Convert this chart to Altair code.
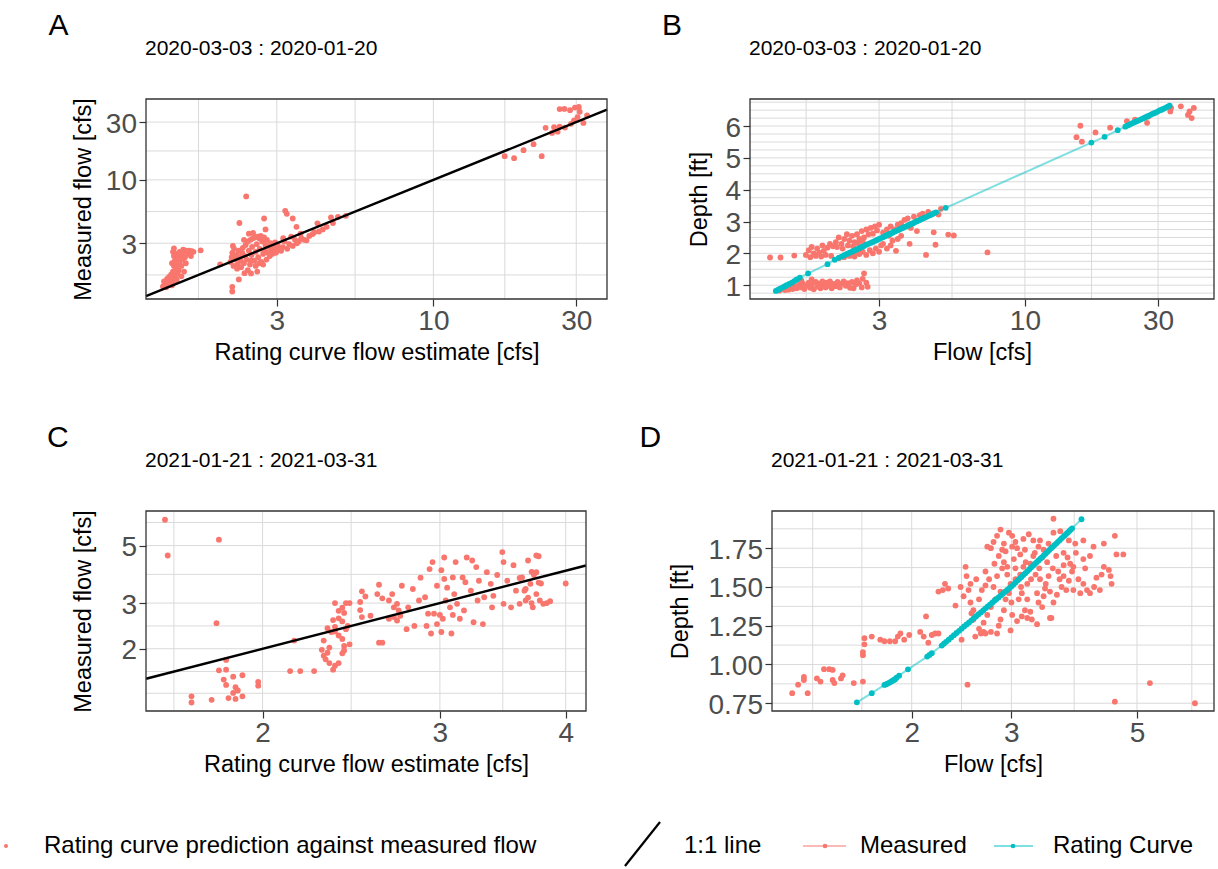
import altair as alt
import pandas as pd

RED = "#F8766D"
TEAL = "#00BFC4"
GRID = "#DADADA"
INK = "#333333"
FONT = "Liberation Sans"

# ---------------- Panel A: rating estimate vs measured flow (2020) ----------------
a_points = [
    (1.25, 1.32), (1.27, 1.38), (1.26, 1.45), (1.28, 1.30), (1.30, 1.35), (1.30, 1.42), (1.29, 1.52), (1.32, 1.40),
    (1.33, 1.48), (1.31, 1.58), (1.34, 1.35), (1.35, 1.55), (1.36, 1.45), (1.33, 1.65), (1.35, 1.75), (1.37, 1.62),
    (1.38, 1.85), (1.36, 1.95), (1.34, 2.05), (1.37, 2.15), (1.36, 2.35), (1.35, 2.55), (1.36, 2.72), (1.38, 2.45),
    (1.39, 2.25), (1.40, 2.00), (1.41, 1.80), (1.40, 1.68), (1.42, 2.10), (1.43, 2.35), (1.42, 2.55), (1.44, 1.95),
    (1.45, 2.20), (1.46, 2.50), (1.46, 2.65), (1.48, 2.30), (1.49, 2.05), (1.50, 2.60), (1.52, 2.45), (1.53, 2.60),
    (1.55, 2.35), (1.56, 2.58), (1.58, 2.55), (1.47, 1.75), (1.44, 1.60), (1.39, 1.50), (1.67, 2.62),
    (1.94, 2.01), (2.10, 2.10), (2.12, 2.30), (2.15, 1.95), (2.13, 2.50), (2.16, 2.70), (2.14, 2.85), (2.18, 2.20),
    (2.20, 2.40), (2.22, 2.00), (2.21, 1.85), (2.24, 2.60), (2.25, 2.30), (2.27, 2.15), (2.28, 1.90), (2.30, 2.50),
    (2.31, 2.75), (2.33, 2.05), (2.35, 2.35), (2.36, 2.90), (2.38, 2.20), (2.40, 3.10), (2.42, 2.60), (2.44, 2.00),
    (2.45, 3.20), (2.47, 2.40), (2.48, 2.80), (2.50, 3.30), (2.52, 2.15), (2.53, 3.35), (2.55, 2.55), (2.57, 2.95),
    (2.58, 3.40), (2.60, 2.30), (2.62, 3.30), (2.63, 2.70), (2.65, 3.45), (2.66, 2.10), (2.68, 3.10), (2.70, 2.45),
    (2.72, 3.35), (2.73, 2.60), (2.75, 2.90), (2.77, 2.20), (2.78, 3.20), (2.80, 2.50), (2.82, 2.80), (2.84, 2.35),
    (2.86, 3.00), (2.88, 2.65), (2.90, 2.45), (2.92, 2.85), (2.94, 2.60), (2.96, 3.05), (2.98, 2.50), (3.00, 2.75),
    (3.02, 2.90), (3.05, 2.65), (2.55, 1.95), (2.62, 2.05), (2.70, 2.00), (2.46, 2.15), (2.40, 1.80), (2.34, 1.70),
    (2.24, 1.51), (2.13, 1.31), (2.13, 1.20), (2.46, 1.69), (2.58, 1.75), (2.37, 7.30), (2.25, 4.41), (2.72, 4.80),
    (2.75, 3.90), (2.42, 3.60), (2.50, 3.65), (2.33, 3.20),
    (3.14, 2.79), (3.20, 5.55), (3.24, 5.25), (3.39, 4.80), (3.49, 4.10), (3.10, 2.60), (3.18, 3.10), (3.25, 2.70),
    (3.30, 2.95), (3.39, 2.85), (3.45, 3.20), (3.50, 3.00), (3.55, 3.10), (3.62, 3.30), (3.70, 3.20), (3.77, 3.17),
    (3.85, 3.45), (3.95, 3.57), (4.00, 3.70), (4.10, 4.38), (4.15, 3.75), (4.27, 3.90), (4.40, 4.10), (4.55, 4.90),
    (4.62, 4.40), (4.80, 4.95), (5.10, 5.05), (3.35, 3.40), (3.60, 3.60), (3.15, 3.30),
    (17.3, 15.7), (18.6, 15.1), (20.0, 17.6), (21.6, 19.7), (23.0, 15.7), (23.7, 26.9), (24.9, 24.4), (25.3, 27.2),
    (26.0, 25.0), (26.4, 27.5), (27.5, 27.0), (28.8, 29.0), (26.4, 38.4), (27.4, 38.5), (28.6, 37.6), (29.7, 39.5),
    (30.6, 40.0), (30.3, 33.0), (31.7, 29.5), (32.6, 34.0), (29.5, 31.0), (30.8, 36.5),
]
a_x_domain = [1.097, 38.0]
a_y_domain = [1.04, 46.5]
a_one_to_one = [1.097, 38.0]
a_x_ticks = [3, 10, 30]
a_y_ticks = [3, 10, 30]
a_x_grid = [1.643, 3, 5.477, 10, 17.32, 30]
a_y_grid = [1.643, 3, 5.477, 10, 17.32, 30]

# ---------------- Panel B: flow vs depth (2020) ----------------
b_measured = [
    (1.22, 1.87), (1.33, 1.87), (1.49, 1.93),
    (1.32, 0.83), (1.35, 0.88), (1.38, 0.85), (1.40, 0.92), (1.42, 0.86), (1.45, 0.95), (1.47, 0.88), (1.50, 0.97),
    (1.52, 0.90), (1.55, 1.02), (1.57, 0.93), (1.60, 1.05), (1.62, 0.88), (1.65, 0.98), (1.68, 1.08), (1.70, 0.92),
    (1.72, 1.02), (1.75, 0.87), (1.78, 1.10), (1.80, 0.96), (1.83, 1.05), (1.85, 0.90), (1.88, 1.12), (1.90, 1.00),
    (1.93, 0.93), (1.95, 1.08), (1.98, 0.98), (2.00, 1.12), (2.03, 0.90), (2.06, 1.04), (2.10, 0.97), (2.13, 1.10),
    (2.17, 0.93), (2.20, 1.05), (2.24, 1.12), (2.28, 0.98), (2.32, 1.06), (2.36, 0.92), (2.40, 1.10), (2.43, 0.90),
    (2.47, 1.02), (2.50, 1.15), (2.55, 1.05), (2.60, 0.93), (2.62, 1.20), (2.65, 1.37), (2.70, 1.08), (2.73, 0.95),
    (1.58, 1.15), (1.72, 1.18),
    (1.64, 1.95), (1.68, 2.10), (1.70, 1.88), (1.72, 2.20), (1.75, 2.00), (1.78, 1.92), (1.80, 2.15), (1.83, 2.02),
    (1.86, 1.90), (1.88, 2.25), (1.90, 2.08), (1.93, 1.95), (1.96, 2.18), (2.00, 2.30), (2.02, 1.92), (2.05, 2.22),
    (2.10, 2.35), (2.15, 2.50), (2.20, 2.30), (2.25, 2.45), (2.30, 2.60), (2.35, 2.40), (2.40, 2.55), (2.45, 2.35),
    (2.50, 2.60), (2.55, 2.45), (2.60, 2.70), (2.65, 2.50), (2.70, 2.75), (2.75, 2.60), (2.80, 2.80), (2.85, 2.62),
    (2.90, 2.85), (2.95, 2.72), (3.00, 2.90), (2.12, 2.20), (2.22, 2.15), (2.32, 2.25), (2.42, 2.22), (2.52, 2.32),
    (2.62, 2.38),
    (2.15, 1.85), (2.25, 1.88), (2.35, 1.92), (2.45, 1.90), (2.55, 1.98), (2.62, 2.05), (2.70, 1.95), (2.78, 2.10),
    (2.85, 2.00), (2.92, 2.15), (3.00, 2.05), (3.05, 2.25), (3.10, 2.30), (3.20, 2.15), (3.30, 2.25), (3.35, 2.40),
    (3.45, 2.08), (3.50, 2.45), (2.50, 2.05), (2.40, 2.00),
    (3.10, 2.65), (3.20, 2.75), (3.30, 2.85), (3.40, 2.75), (3.50, 2.90), (3.60, 2.95), (3.70, 3.05), (3.80, 3.10),
    (3.90, 2.80), (4.00, 3.15), (4.10, 2.70), (4.20, 3.20), (4.30, 3.25), (4.50, 3.30), (3.86, 2.30), (4.42, 1.95),
    (4.71, 2.66), (4.78, 2.27), (4.90, 3.22), (5.00, 3.40), (5.31, 2.59), (5.56, 2.56), (7.34, 2.03), (3.60, 2.55),
    (3.25, 2.55),
    (15.3, 5.65), (15.8, 6.01), (16.0, 5.51), (17.9, 5.80), (20.2, 5.95), (23.2, 6.15), (24.8, 6.20), (27.4, 6.10),
    (27.7, 6.30), (33.2, 6.46), (33.4, 6.57), (36.2, 6.62), (38.4, 6.35), (38.9, 6.46), (39.6, 6.25), (40.3, 6.57),
]
b_rating = [
    (1.28, 0.82), (1.30, 0.85), (1.32, 0.88), (1.34, 0.91), (1.36, 0.94), (1.38, 0.97), (1.40, 1.00), (1.43, 1.04),
    (1.46, 1.08), (1.49, 1.13), (1.52, 1.18), (1.56, 1.24), (1.67, 1.37), (1.96, 1.66),
    (2.08, 1.80), (2.15, 1.86), (2.20, 1.90), (2.25, 1.94), (2.30, 1.98), (2.35, 2.02), (2.40, 2.05), (2.45, 2.09),
    (2.50, 2.13), (2.55, 2.16), (2.60, 2.20), (2.65, 2.23), (2.70, 2.27), (2.75, 2.30), (2.80, 2.33), (2.85, 2.36),
    (2.90, 2.39), (2.95, 2.42), (3.00, 2.45), (3.05, 2.48), (3.10, 2.51), (3.15, 2.54), (3.20, 2.57), (3.25, 2.60),
    (3.30, 2.62), (3.35, 2.65), (3.40, 2.68), (3.45, 2.70), (3.50, 2.73), (3.55, 2.75), (3.60, 2.78), (3.65, 2.80),
    (3.70, 2.83), (3.75, 2.85), (3.80, 2.87), (3.85, 2.90), (3.90, 2.92), (3.95, 2.94), (4.00, 2.96), (4.05, 2.99),
    (4.10, 3.01), (4.15, 3.03), (4.20, 3.05), (4.27, 3.08), (4.35, 3.11), (4.42, 3.14), (4.50, 3.17), (4.57, 3.20),
    (4.65, 3.23), (4.72, 3.26), (4.80, 3.29), (5.20, 3.43),
    (17.3, 5.48), (19.3, 5.66), (21.5, 5.87), (22.9, 5.98), (23.35, 6.02), (23.8, 6.05), (24.25, 6.09), (24.7, 6.12),
    (25.15, 6.15), (25.6, 6.18), (26.05, 6.21), (26.5, 6.24), (26.95, 6.27), (27.4, 6.30), (27.85, 6.33),
    (28.3, 6.36), (28.75, 6.39), (29.2, 6.41), (29.65, 6.44), (30.1, 6.47), (30.55, 6.50), (31.0, 6.52),
    (31.5, 6.55), (32.0, 6.58), (32.5, 6.61), (33.0, 6.64),
]
b_x_domain = [1.034, 47.6]
b_y_domain = [0.566, 6.85]
b_x_ticks = [3, 10, 30]
b_y_ticks = [1, 2, 3, 4, 5, 6]
b_x_grid = [1.643, 3, 5.477, 10, 17.32, 30]
b_y_grid = [0.75, 1, 1.25, 1.5, 1.75, 2, 2.25, 2.5, 2.75, 3, 3.25, 3.5, 3.75, 4, 4.25, 4.5, 4.75,
            5, 5.25, 5.5, 5.75, 6, 6.25, 6.5, 6.75]

# ---------------- Panel C: rating estimate vs measured flow (2021) ----------------
c_points = [
    (1.60, 6.29), (1.61, 4.58), (1.81, 5.27), (1.80, 2.51), (1.70, 1.31), (1.70, 1.24), (1.78, 1.27), (1.84, 1.81),
    (1.81, 1.65), (1.84, 1.66), (1.83, 1.52), (1.87, 1.56), (1.84, 1.45), (1.88, 1.42), (1.91, 1.58), (1.87, 1.35),
    (1.89, 1.38), (1.91, 1.31), (1.85, 1.29), (1.88, 1.28), (1.98, 1.49), (1.98, 1.44), (2.15, 2.15), (2.13, 1.64),
    (2.18, 1.64), (2.25, 1.64),
    (2.30, 2.15), (2.29, 1.98), (2.30, 1.88), (2.31, 1.82), (2.33, 1.76), (2.35, 1.66), (2.36, 1.72), (2.38, 1.76),
    (2.32, 1.93), (2.33, 2.02), (2.38, 2.25), (2.40, 2.18), (2.41, 2.05), (2.41, 1.97), (2.40, 1.92), (2.36, 2.43),
    (2.38, 2.62), (2.40, 2.55), (2.41, 2.75), (2.40, 2.88), (2.42, 3.00), (2.36, 3.00), (2.44, 3.00), (2.38, 2.80),
    (2.44, 2.08), (2.42, 2.38), (2.43, 2.45), (2.36, 2.33), (2.34, 2.32), (2.35, 2.58), (2.32, 2.40),
    (2.50, 3.03), (2.51, 3.33), (2.53, 3.18), (2.50, 2.82), (2.51, 2.65), (2.56, 2.68), (2.61, 3.53), (2.60, 3.25),
    (2.63, 3.13), (2.63, 2.11), (2.61, 2.11), (2.67, 3.07), (2.69, 3.25), (2.70, 2.89), (2.72, 2.98), (2.73, 2.81),
    (2.75, 3.50), (2.67, 2.61), (2.70, 2.65), (2.72, 2.57), (2.74, 2.68), (2.78, 2.38), (2.79, 2.89), (2.82, 3.40),
    (2.83, 2.45), (2.86, 3.07), (2.87, 3.76), (2.90, 3.16), (2.91, 2.45), (2.92, 2.73), (2.94, 2.29), (2.96, 2.73),
    (2.93, 4.06), (2.95, 4.32), (2.98, 3.50), (3.01, 4.02), (3.00, 2.70), (3.01, 2.32), (3.02, 2.61), (2.98, 2.49),
    (3.03, 4.50), (3.03, 3.72), (3.04, 3.07), (3.05, 3.44), (3.07, 2.89), (3.08, 2.29), (3.09, 3.77), (3.09, 2.70),
    (3.10, 3.25), (3.11, 4.32), (3.12, 2.98), (3.14, 2.61), (3.16, 3.77), (3.17, 2.81), (3.18, 3.61), (3.19, 4.50),
    (3.22, 3.35), (3.23, 4.38), (3.24, 2.53), (3.26, 4.13), (3.27, 3.07), (3.28, 3.66), (3.31, 2.49), (3.32, 3.16),
    (3.34, 3.95), (3.37, 3.56), (3.38, 2.89), (3.39, 3.20), (3.42, 3.85), (3.46, 4.72), (3.47, 4.32), (3.47, 2.98),
    (3.50, 3.66), (3.53, 2.89), (3.55, 4.20), (3.57, 3.35), (3.60, 2.98), (3.62, 3.77), (3.64, 3.35), (3.65, 3.07),
    (3.67, 4.38), (3.69, 3.56), (3.71, 2.89), (3.74, 3.95), (3.76, 4.55), (3.77, 3.07),
    (3.78, 3.57), (3.83, 3.00), (3.74, 3.25), (3.70, 3.96), (3.72, 3.85), (3.67, 3.15), (3.70, 3.00), (3.80, 2.98),
    (3.65, 3.40), (3.60, 3.75), (3.76, 3.60), (3.74, 4.58), (4.00, 3.57), (3.86, 3.05),
]
c_x_domain = [1.532, 4.19]
c_y_domain = [1.15, 6.8]
c_one_to_one = [1.532, 4.19]
c_x_ticks = [2, 3, 4]
c_y_ticks = [2, 3, 5]
c_x_grid = [1.633, 2, 2.449, 3, 3.464, 4]
c_y_grid = [1.346, 1.633, 2, 2.449, 3, 3.873, 5, 6.14]

# ---------------- Panel D: flow vs depth (2021) ----------------
d_measured = [
    (1.23, 0.815), (1.26, 0.87), (1.29, 0.92), (1.29, 0.90), (1.31, 0.815), (1.36, 0.91), (1.38, 0.89), (1.40, 0.97),
    (1.43, 0.97), (1.45, 0.965), (1.45, 0.90), (1.46, 0.88), (1.50, 0.91), (1.51, 0.93), (1.58, 0.88), (1.64, 0.89),
    (1.64, 1.06), (1.64, 1.08), (1.65, 1.13), (1.65, 1.17), (1.70, 1.18), (1.76, 1.16), (1.79, 1.15), (1.83, 1.15),
    (1.87, 1.15), (1.89, 1.18), (1.91, 1.20), (1.94, 1.16), (1.98, 1.19), (2.07, 1.21), (2.12, 1.31), (2.10, 1.18),
    (2.14, 1.14), (2.17, 1.19), (2.20, 1.20), (2.23, 1.20), (2.51, 0.87),
    (2.23, 1.47), (2.27, 1.48), (2.32, 1.49), (2.29, 1.52), (2.39, 1.38), (2.45, 1.16), (2.47, 1.44), (2.49, 1.63),
    (2.50, 1.57), (2.54, 1.52), (2.55, 1.33), (2.57, 1.29), (2.59, 1.18), (2.65, 1.20), (2.68, 1.21), (2.70, 1.20),
    (2.76, 1.21), (2.83, 1.20), (2.85, 1.25), (2.63, 1.42), (2.66, 1.48), (2.70, 1.51), (2.74, 1.55), (2.79, 1.50),
    (2.83, 1.57), (2.89, 1.62), (2.76, 1.75), (2.79, 1.79), (2.87, 1.87), (2.91, 1.78), (2.93, 1.73), (2.97, 1.85),
    (3.01, 1.83), (3.05, 1.79), (3.07, 1.75), (3.15, 1.81), (3.22, 1.84), (3.28, 1.80), (3.35, 1.76), (3.42, 1.74),
    (3.49, 1.78), (3.56, 1.85), (3.66, 1.86), (3.71, 1.72), (3.81, 1.65), (3.86, 1.63), (3.94, 1.55), (4.02, 1.68),
    (4.13, 1.70), (4.30, 1.48), (4.37, 1.63), (4.49, 1.57), (4.57, 1.83), (4.73, 1.71), (4.37, 1.78), (4.46, 1.61),
    (4.51, 1.52), (4.08, 1.48), (4.13, 1.46), (3.97, 1.46), (3.86, 1.48), (3.79, 1.54), (3.68, 1.50), (3.61, 1.45),
    (3.51, 1.47), (3.44, 1.49), (3.37, 1.55), (3.31, 1.58), (3.20, 1.42), (3.17, 1.35), (3.13, 1.31), (3.07, 1.28),
    (2.99, 1.22), (2.91, 1.35), (2.87, 1.29), (3.01, 1.32), (3.09, 1.42), (3.24, 1.34), (3.26, 1.29), (3.33, 1.26),
    (3.40, 1.37), (3.51, 1.30), (3.56, 1.40), (3.42, 1.44), (3.49, 1.57), (3.63, 1.60), (3.71, 1.64), (3.77, 1.69),
    (3.47, 1.66), (3.40, 1.69), (3.28, 1.70), (3.24, 1.65), (3.15, 1.63), (3.11, 1.58), (3.05, 1.55), (2.99, 1.52),
    (2.97, 1.46), (2.93, 1.42), (2.87, 1.47), (2.81, 1.42), (2.76, 1.37), (2.72, 1.32), (2.68, 1.27), (2.63, 1.23),
    (2.57, 1.35), (2.54, 1.40), (2.52, 1.48), (2.44, 1.50), (2.91, 1.66), (2.85, 1.70), (2.95, 1.63), (3.03, 1.68),
    (3.11, 1.71), (3.17, 1.74), (3.13, 1.46), (3.20, 1.52), (3.33, 1.46), (3.71, 1.57), (3.84, 1.60), (4.02, 1.52),
    (4.24, 1.56), (4.33, 1.58), (4.60, 1.71), (4.19, 1.76), (4.02, 1.80), (3.89, 1.78), (3.79, 1.80), (3.37, 1.80),
    (2.72, 1.76), (2.83, 1.83), (2.89, 1.74), (3.01, 1.76), (3.56, 1.94), (3.53, 1.30), (3.20, 1.30),
    (2.95, 1.58), (3.05, 1.62), (3.12, 1.50), (3.18, 1.66), (3.25, 1.55), (3.30, 1.72), (3.36, 1.62), (3.45, 1.52),
    (3.55, 1.62), (3.60, 1.70), (3.65, 1.55), (3.75, 1.48), (3.90, 1.72), (4.05, 1.62), (4.20, 1.50), (2.80, 1.65),
    (2.70, 1.60), (2.60, 1.55), (3.00, 1.40), (3.35, 1.40),
    (4.57, 0.76), (5.27, 0.88), (6.33, 0.75),
]
d_rating = [
    (1.60, 0.756), (1.70, 0.815), (1.79, 0.868), (1.80, 0.872), (1.81, 0.875), (1.82, 0.880), (1.83, 0.885),
    (1.84, 0.890), (1.85, 0.895), (1.86, 0.900), (1.87, 0.905), (1.88, 0.915), (1.90, 0.928), (1.97, 0.969),
    (2.13, 1.051), (2.15, 1.062), (2.17, 1.073), (2.26, 1.122), (2.28, 1.134), (2.30, 1.146), (2.325, 1.160),
    (2.35, 1.175), (2.375, 1.189), (2.40, 1.203), (2.425, 1.217), (2.45, 1.231), (2.475, 1.245), (2.50, 1.258),
    (2.525, 1.271), (2.55, 1.284), (2.575, 1.298), (2.60, 1.311), (2.625, 1.324), (2.65, 1.336), (2.675, 1.349),
    (2.70, 1.362), (2.725, 1.374), (2.75, 1.386), (2.775, 1.399), (2.80, 1.411), (2.825, 1.423), (2.85, 1.434),
    (2.875, 1.446), (2.90, 1.458), (2.925, 1.470), (2.95, 1.481), (2.975, 1.492), (3.00, 1.503), (3.025, 1.516),
    (3.05, 1.528), (3.075, 1.541), (3.10, 1.553), (3.125, 1.565), (3.15, 1.577), (3.175, 1.589), (3.20, 1.601),
    (3.225, 1.613), (3.25, 1.625), (3.275, 1.637), (3.30, 1.648), (3.325, 1.660), (3.35, 1.671), (3.375, 1.682),
    (3.40, 1.693), (3.425, 1.705), (3.45, 1.716), (3.475, 1.727), (3.50, 1.738), (3.525, 1.749), (3.55, 1.759),
    (3.575, 1.770), (3.60, 1.780), (3.625, 1.791), (3.65, 1.801), (3.675, 1.812), (3.70, 1.822), (3.725, 1.832),
    (3.75, 1.842), (3.775, 1.852), (3.80, 1.862), (3.82, 1.870), (3.84, 1.878), (3.99, 1.937),
]
d_x_domain = [1.133, 6.84]
d_y_domain = [0.70, 1.99]
d_x_ticks = [2, 3, 5]
d_y_ticks = [0.75, 1.0, 1.25, 1.5, 1.75]
d_x_grid = [1.337, 1.633, 2, 2.449, 3, 3.873, 5, 6.25]
d_y_grid = [0.75, 0.875, 1, 1.125, 1.25, 1.375, 1.5, 1.625, 1.75, 1.875]

# ---------------- helpers ----------------
one = pd.DataFrame({"k": [0]})
H = 200
PT = 34


def pts(pairs):
    return pd.DataFrame(pairs, columns=["x", "y"])


def x_axis(ticks, title, fmt, title_x):
    return alt.Axis(values=ticks, format=fmt, title=title, grid=False, domain=False,
                    tickSize=7, tickWidth=1.2, tickColor=INK,
                    labelPadding=1, labelFontSize=28, labelColor="#4D4D4D", labelFont=FONT,
                    labelFlush=False, labelOverlap=False,
                    titleFont=FONT, titleFontSize=23.5, titleFontWeight="normal", titleColor="black",
                    titleX=title_x, titleY=60.5, titleAlign="center", titleBaseline="alphabetic")


def y_axis(ticks, title, fmt, title_x, offset=0):
    kw = {}
    if offset:
        kw["offset"] = offset
    return alt.Axis(values=ticks, format=fmt, title=title, grid=False, domain=False,
                    tickSize=7, tickWidth=1.2, tickColor=INK,
                    labelPadding=2.5, labelOffset=2, labelFontSize=28, labelColor="#4D4D4D", labelFont=FONT,
                    labelFlush=False, labelOverlap=False,
                    titleFont=FONT, titleFontSize=23.5, titleFontWeight="normal", titleColor="black",
                    titleX=title_x, titleY=H / 2, titleAlign="center", titleBaseline="middle", titleAngle=270,
                    **kw)


def text(txt, x, y, size, baseline="alphabetic"):
    return alt.Chart(one).mark_text(text=txt, align="left", baseline=baseline, fontSize=size,
                                    font=FONT, color="black").encode(x=alt.value(x), y=alt.value(y))


def grid_layers(xs, ys, ax, ay, xgrid, ygrid, x0=None, x1=None):
    gx = alt.Chart(pd.DataFrame({"g": xgrid})).mark_rule(color=GRID, strokeWidth=1).encode(
        x=alt.X("g:Q", scale=xs, axis=ax))
    enc = {"y": alt.Y("g:Q", scale=ys, axis=ay)}
    if x0 is not None:
        enc["x"] = alt.value(x0)
        enc["x2"] = alt.value(x1)
    gy = alt.Chart(pd.DataFrame({"g": ygrid})).mark_rule(color=GRID, strokeWidth=1).encode(**enc)
    return [gx, gy]


def border(x0, x1):
    return alt.Chart(one).mark_rect(fillOpacity=0, stroke=INK, strokeWidth=1.3).encode(
        x=alt.value(x0), x2=alt.value(x1), y=alt.value(0), y2=alt.value(H))


def scatter(pairs, xs, ys, ax, ay, color, size=PT):
    return alt.Chart(pts(pairs)).mark_circle(size=size, color=color, opacity=1).encode(
        x=alt.X("x:Q", scale=xs, axis=ax), y=alt.Y("y:Q", scale=ys, axis=ay))


def line(pairs, xs, ys, ax, ay, color, width, opacity=1.0):
    return alt.Chart(pts(pairs)).mark_line(color=color, strokeWidth=width, opacity=opacity).encode(
        x=alt.X("x:Q", scale=xs, axis=ax), y=alt.Y("y:Q", scale=ys, axis=ay))


# ---------------- Panel A ----------------
WA = 461
xsA = alt.Scale(type="log", domain=a_x_domain, nice=False)
ysA = alt.Scale(type="log", domain=a_y_domain, nice=False)
axA = x_axis(a_x_ticks, "Rating curve flow estimate [cfs]", "d", WA / 2)
ayA = y_axis(a_y_ticks, "Measured flow [cfs]", "d", -62.5)
panelA = alt.layer(
    *grid_layers(xsA, ysA, axA, ayA, a_x_grid, a_y_grid),
    scatter(a_points, xsA, ysA, axA, ayA, RED),
    line(list(zip(a_one_to_one, a_one_to_one)), xsA, ysA, axA, ayA, "black", 2.4),
    border(0, WA),
    text("A", -97.5, -64, 30),
    text("2020-03-03 : 2020-01-20", -1, -44, 21),
).properties(width=WA, height=H)

# ---------------- Panel B ----------------
WB = 464
xsB = alt.Scale(type="log", domain=b_x_domain, nice=False)
ysB = alt.Scale(type="linear", domain=b_y_domain, nice=False, zero=False)
axB = x_axis(b_x_ticks, "Flow [cfs]", "d", WB / 2)
ayB = y_axis(b_y_ticks, "Depth [ft]", "d", -51)
panelB = alt.layer(
    *grid_layers(xsB, ysB, axB, ayB, b_x_grid, b_y_grid),
    scatter(b_measured, xsB, ysB, axB, ayB, RED),
    line(b_rating, xsB, ysB, axB, ayB, TEAL, 2, 0.5),
    scatter(b_rating, xsB, ysB, axB, ayB, TEAL),
    border(0, WB),
    text("B", -88, -64, 30),
    text("2020-03-03 : 2020-01-20", -1, -44, 21),
).properties(width=WB, height=H)

# ---------------- Panel C ----------------
WC = 440
xsC = alt.Scale(type="log", domain=c_x_domain, nice=False)
ysC = alt.Scale(type="log", domain=c_y_domain, nice=False)
axC = x_axis(c_x_ticks, "Rating curve flow estimate [cfs]", "d", WC / 2)
ayC = y_axis(c_y_ticks, "Measured flow [cfs]", "d", -62.5)

LY = 335  # legend row, relative to panel C top
legend_layers = [
    alt.Chart(one).mark_circle(size=16, color=RED, opacity=1).encode(x=alt.value(-140), y=alt.value(LY)),
    text("Rating curve prediction against measured flow", -102, LY, 24, "middle"),
    alt.Chart(one).mark_rule(color="black", strokeWidth=2.2).encode(
        x=alt.value(479), y=alt.value(355), x2=alt.value(514), y2=alt.value(311)),
    text("1:1 line", 538, LY, 24, "middle"),
    alt.Chart(one).mark_rule(color=RED, strokeWidth=2, opacity=0.5).encode(
        x=alt.value(657), x2=alt.value(700), y=alt.value(LY)),
    alt.Chart(one).mark_circle(size=22, color=RED, opacity=1).encode(x=alt.value(679), y=alt.value(LY)),
    text("Measured", 714, LY, 24, "middle"),
    alt.Chart(one).mark_rule(color=TEAL, strokeWidth=2, opacity=0.5).encode(
        x=alt.value(848), x2=alt.value(887), y=alt.value(LY)),
    alt.Chart(one).mark_circle(size=22, color=TEAL, opacity=1).encode(x=alt.value(867), y=alt.value(LY)),
    text("Rating Curve", 907, LY, 24, "middle"),
]

panelC = alt.layer(
    *grid_layers(xsC, ysC, axC, ayC, c_x_grid, c_y_grid),
    scatter(c_points, xsC, ysC, axC, ayC, RED),
    line(list(zip(c_one_to_one, c_one_to_one)), xsC, ysC, axC, ayC, "black", 2.4),
    border(0, WC),
    text("C", -99, -64, 30),
    text("2021-01-21 : 2021-03-31", -1, -44, 21),
    *legend_layers,
).properties(width=WC, height=H)

# ---------------- Panel D (shares column with B; plot starts 22px in) ----------------
WD_VIEW = 464
D0 = 22
xsD = alt.Scale(type="log", domain=d_x_domain, nice=False, range=[D0, WD_VIEW])
ysD = alt.Scale(type="linear", domain=d_y_domain, nice=False, zero=False)
axD = x_axis(d_x_ticks, "Flow [cfs]", "d", D0 + (WD_VIEW - D0) / 2)
ayD = y_axis(d_y_ticks, "Depth [ft]", ".2f", -92, offset=-D0)
panelD = alt.layer(
    *grid_layers(xsD, ysD, axD, ayD, d_x_grid, d_y_grid, x0=D0, x1=WD_VIEW),
    scatter(d_measured, xsD, ysD, axD, ayD, RED),
    line(d_rating, xsD, ysD, axD, ayD, TEAL, 2, 0.5),
    scatter(d_rating, xsD, ysD, axD, ayD, TEAL),
    border(D0, WD_VIEW),
    text("D", D0 - 132.5, -64, 30),
    text("2021-01-21 : 2021-03-31", D0 - 1, -44, 21),
).properties(width=WD_VIEW, height=H)

chart = alt.concat(
    panelA, panelB, panelC, panelD,
    columns=2, spacing={"row": 212, "column": 143}, bounds="flush", align="each",
).properties(
    padding={"left": 4, "top": 11, "right": 0, "bottom": 0},
    background="white",
).configure_view(strokeWidth=0)

chart.save("out.html", embed_options={"renderer": "svg", "actions": False})
